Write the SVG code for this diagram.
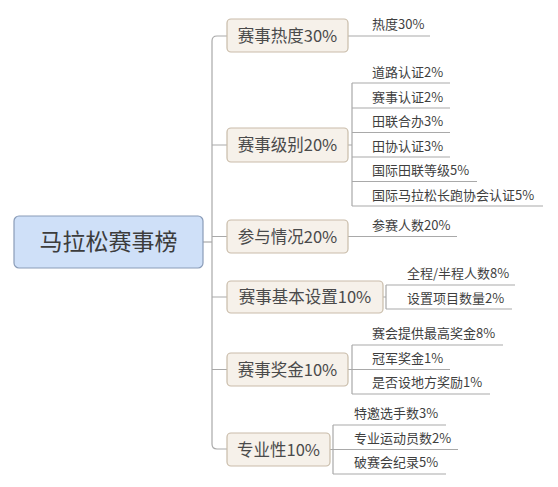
<svg xmlns="http://www.w3.org/2000/svg" width="558" height="487" viewBox="0 0 558 487">
<style>
.bg{fill:#ffffff}
.root{fill:#cfe0f8;stroke:#8a9cb8;stroke-width:1.2}
.box{fill:#f6f1ea;stroke:#c9bca9;stroke-width:1.2}
.ln{fill:none;stroke:#a9a9a9;stroke-width:1.2}
.t0{font-family:"Noto Sans CJK SC","Noto Sans",sans-serif;font-size:23px;fill:#3c3c3c;text-anchor:middle}
.t1{font-family:"Noto Sans CJK SC","Noto Sans",sans-serif;font-size:16.5px;fill:#4a4a4a;text-anchor:middle}
.t2{font-family:"Noto Sans CJK SC","Noto Sans",sans-serif;font-size:13px;fill:#3f3f3f}
</style>
<rect class="bg" x="0" y="0" width="558" height="487"/>
<g id="connectors">
<path class="ln" d="M203,242 H212"/>
<path class="ln" d="M227,36 H217 Q212,36 212,41 V444 Q212,449 217,449 H227"/>
<path class="ln" d="M212,145 H227 M212,236.5 H227 M212,297 H227 M212,369.5 H227"/>
<path class="ln" d="M348,36 H430"/>
<path class="ln" d="M348,145 H352 M352,83 V206 M352,83 H450 M352,108 H450 M352,132.5 H450 M352,157 H450 M352,181.5 H477 M352,206 H543"/>
<path class="ln" d="M348,236.5 H457"/>
<path class="ln" d="M383,297 H386 M386,285 V309 M386,285 H515 M386,309 H512"/>
<path class="ln" d="M348,369.5 H352 M352,345 V394 M352,345 H503 M352,369.5 H450 M352,394 H490"/>
<path class="ln" d="M330,449.5 H333 M333,425 V474 M333,425 H446 M333,449.5 H458 M333,474 H446"/>
</g>
<g id="root">
<rect class="root" x="14" y="216" width="189" height="52" rx="5"/>
<text class="t0" x="108.5" y="250">马拉松赛事榜</text>
</g>
<g id="n1">
<rect class="box" x="227" y="19" width="121" height="33" rx="4"/>
<text class="t1" x="287.5" y="41.5">赛事热度30%</text>
</g>
<g id="n2">
<rect class="box" x="227" y="128" width="121" height="34" rx="4"/>
<text class="t1" x="287.5" y="151">赛事级别20%</text>
</g>
<g id="n3">
<rect class="box" x="227" y="220" width="121" height="33" rx="4"/>
<text class="t1" x="287.5" y="242.5">参与情况20%</text>
</g>
<g id="n4">
<rect class="box" x="227" y="281" width="156" height="32" rx="4"/>
<text class="t1" x="305" y="303">赛事基本设置10%</text>
</g>
<g id="n5">
<rect class="box" x="227" y="353" width="121" height="33" rx="4"/>
<text class="t1" x="287.5" y="375.5">赛事奖金10%</text>
</g>
<g id="n6">
<rect class="box" x="227" y="433" width="103" height="33" rx="4"/>
<text class="t1" x="278.5" y="455.5">专业性10%</text>
</g>
<g id="leaves1">
<text class="t2" x="372" y="29">热度30%</text>
</g>
<g id="leaves2">
<text class="t2" x="372" y="77">道路认证2%</text>
<text class="t2" x="372" y="101.5">赛事认证2%</text>
<text class="t2" x="372" y="126">田联合办3%</text>
<text class="t2" x="372" y="150.5">田协认证3%</text>
<text class="t2" x="372" y="175">国际田联等级5%</text>
<text class="t2" x="372" y="199.5">国际马拉松长跑协会认证5%</text>
</g>
<g id="leaves3">
<text class="t2" x="372" y="229.5">参赛人数20%</text>
</g>
<g id="leaves4">
<text class="t2" x="407" y="278">全程/半程人数8%</text>
<text class="t2" x="407" y="302.5">设置项目数量2%</text>
</g>
<g id="leaves5">
<text class="t2" x="372" y="338">赛会提供最高奖金8%</text>
<text class="t2" x="372" y="362.5">冠军奖金1%</text>
<text class="t2" x="372" y="387">是否设地方奖励1%</text>
</g>
<g id="leaves6">
<text class="t2" x="354" y="418">特邀选手数3%</text>
<text class="t2" x="354" y="442.5">专业运动员数2%</text>
<text class="t2" x="354" y="467">破赛会纪录5%</text>
</g>
</svg>
